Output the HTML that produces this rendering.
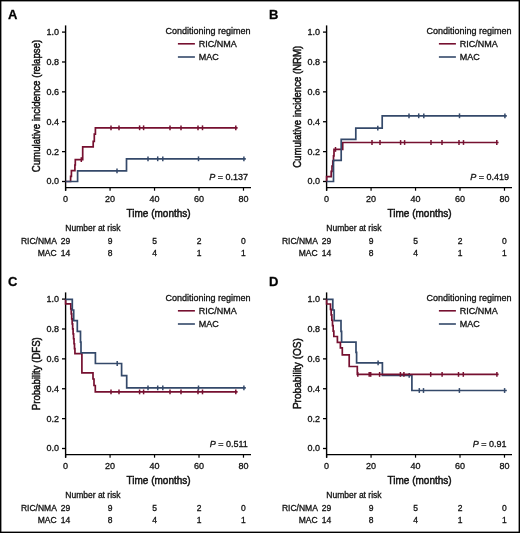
<!DOCTYPE html>
<html><head><meta charset="utf-8"><style>
html,body{margin:0;padding:0;background:#fff;}
body{width:520px;height:533px;overflow:hidden;}
svg{display:block;font-family:"Liberation Sans", sans-serif;will-change:transform;}
text{stroke:#111;stroke-width:0.3px;}
</style></head><body>
<svg width="520" height="533" viewBox="0 0 520 533">
<rect x="0" y="0" width="520" height="533" fill="#fff"/>
<g transform="translate(0,0)">
<text x="7.9" y="19" font-size="13" font-weight="bold" fill="#000">A</text>
<line x1="65.6" y1="25.4" x2="65.6" y2="190.7" stroke="#000" stroke-width="1.4"/>
<line x1="62" y1="32.10" x2="65.6" y2="32.10" stroke="#000" stroke-width="1.3"/>
<text x="58.9" y="35.00" font-size="9" text-anchor="end" fill="#111">1.0</text>
<line x1="62" y1="61.98" x2="65.6" y2="61.98" stroke="#000" stroke-width="1.3"/>
<text x="58.9" y="64.88" font-size="9" text-anchor="end" fill="#111">0.8</text>
<line x1="62" y1="91.86" x2="65.6" y2="91.86" stroke="#000" stroke-width="1.3"/>
<text x="58.9" y="94.76" font-size="9" text-anchor="end" fill="#111">0.6</text>
<line x1="62" y1="121.74" x2="65.6" y2="121.74" stroke="#000" stroke-width="1.3"/>
<text x="58.9" y="124.64" font-size="9" text-anchor="end" fill="#111">0.4</text>
<line x1="62" y1="151.62" x2="65.6" y2="151.62" stroke="#000" stroke-width="1.3"/>
<text x="58.9" y="154.52" font-size="9" text-anchor="end" fill="#111">0.2</text>
<line x1="62" y1="181.50" x2="65.6" y2="181.50" stroke="#000" stroke-width="1.3"/>
<text x="58.9" y="184.40" font-size="9" text-anchor="end" fill="#111">0.0</text>
<line x1="65" y1="187.65" x2="251" y2="187.65" stroke="#000" stroke-width="1.4"/>
<line x1="65.60" y1="187.65" x2="65.60" y2="190.7" stroke="#000" stroke-width="1.2"/>
<text x="65.60" y="202.3" font-size="9" text-anchor="middle" fill="#111">0</text>
<line x1="110.07" y1="187.65" x2="110.07" y2="190.7" stroke="#000" stroke-width="1.2"/>
<text x="110.07" y="202.3" font-size="9" text-anchor="middle" fill="#111">20</text>
<line x1="154.54" y1="187.65" x2="154.54" y2="190.7" stroke="#000" stroke-width="1.2"/>
<text x="154.54" y="202.3" font-size="9" text-anchor="middle" fill="#111">40</text>
<line x1="199.01" y1="187.65" x2="199.01" y2="190.7" stroke="#000" stroke-width="1.2"/>
<text x="199.01" y="202.3" font-size="9" text-anchor="middle" fill="#111">60</text>
<line x1="243.48" y1="187.65" x2="243.48" y2="190.7" stroke="#000" stroke-width="1.2"/>
<text x="243.48" y="202.3" font-size="9" text-anchor="middle" fill="#111">80</text>
<text x="126.6" y="216.9" font-size="11" textLength="64" lengthAdjust="spacingAndGlyphs" fill="#111" style="stroke-width:0.5px">Time (months)</text>
<text transform="translate(40.0,106.0) rotate(-90)" x="0" y="0" font-size="11" text-anchor="middle" textLength="132.5" lengthAdjust="spacingAndGlyphs" fill="#111" style="stroke-width:0.5px">Cumulative incidence (relapse)</text>
<text x="165.4" y="33.7" font-size="9" fill="#111">Conditioning regimen</text>
<line x1="177.9" y1="43.8" x2="194.9" y2="43.8" stroke="#761030" stroke-width="1.6"/>
<line x1="177.9" y1="57.0" x2="194.9" y2="57.0" stroke="#34496a" stroke-width="1.6"/>
<text x="198.8" y="46.8" font-size="9" fill="#111">RIC/NMA</text>
<text x="198.8" y="60.2" font-size="9" fill="#111">MAC</text>
<text x="228.7" y="179.7" font-size="9" text-anchor="middle" fill="#111"><tspan font-style="italic">P</tspan> = 0.137</text>
<text x="65.3" y="230.6" font-size="8.5" fill="#111">Number at risk</text>
<text x="56.8" y="243.9" font-size="8.5" text-anchor="end" fill="#111">RIC/NMA</text>
<text x="56.6" y="255.6" font-size="8.5" text-anchor="end" fill="#111">MAC</text>
<text x="65.60" y="243.9" font-size="8.5" text-anchor="middle" fill="#111">29</text>
<text x="65.60" y="255.6" font-size="8.5" text-anchor="middle" fill="#111">14</text>
<text x="110.07" y="243.9" font-size="8.5" text-anchor="middle" fill="#111">9</text>
<text x="110.07" y="255.6" font-size="8.5" text-anchor="middle" fill="#111">8</text>
<text x="154.54" y="243.9" font-size="8.5" text-anchor="middle" fill="#111">5</text>
<text x="154.54" y="255.6" font-size="8.5" text-anchor="middle" fill="#111">4</text>
<text x="199.01" y="243.9" font-size="8.5" text-anchor="middle" fill="#111">2</text>
<text x="199.01" y="255.6" font-size="8.5" text-anchor="middle" fill="#111">1</text>
<text x="243.48" y="243.9" font-size="8.5" text-anchor="middle" fill="#111">0</text>
<text x="243.48" y="255.6" font-size="8.5" text-anchor="middle" fill="#111">1</text>
<path d="M65.6,181.5 H70.6 V176.3 H71.4 V170.6 H74.9 V165 H75.3 V159.6 H82.7 V146.8 H93.2 V141.4 H94.3 V134.2 H95.4 V127.8 H237.6" fill="none" stroke="#761030" stroke-width="1.7" stroke-linejoin="miter"/><line x1="81.30" y1="157.20" x2="81.30" y2="162.00" stroke="#761030" stroke-width="1.5"/><line x1="111.00" y1="125.40" x2="111.00" y2="130.20" stroke="#761030" stroke-width="1.5"/><line x1="119.00" y1="125.40" x2="119.00" y2="130.20" stroke="#761030" stroke-width="1.5"/><line x1="139.60" y1="125.40" x2="139.60" y2="130.20" stroke="#761030" stroke-width="1.5"/><line x1="143.60" y1="125.40" x2="143.60" y2="130.20" stroke="#761030" stroke-width="1.5"/><line x1="170.00" y1="125.40" x2="170.00" y2="130.20" stroke="#761030" stroke-width="1.5"/><line x1="181.00" y1="125.40" x2="181.00" y2="130.20" stroke="#761030" stroke-width="1.5"/><line x1="198.00" y1="125.40" x2="198.00" y2="130.20" stroke="#761030" stroke-width="1.5"/><line x1="202.50" y1="125.40" x2="202.50" y2="130.20" stroke="#761030" stroke-width="1.5"/><line x1="235.80" y1="125.40" x2="235.80" y2="130.20" stroke="#761030" stroke-width="1.5"/><path d="M65.6,181.5 H77.6 V170.8 H126.5 V158.8 H245.8" fill="none" stroke="#34496a" stroke-width="1.7" stroke-linejoin="miter"/><line x1="117.00" y1="168.40" x2="117.00" y2="173.20" stroke="#34496a" stroke-width="1.5"/><line x1="148.00" y1="156.40" x2="148.00" y2="161.20" stroke="#34496a" stroke-width="1.5"/><line x1="157.70" y1="156.40" x2="157.70" y2="161.20" stroke="#34496a" stroke-width="1.5"/><line x1="162.80" y1="156.40" x2="162.80" y2="161.20" stroke="#34496a" stroke-width="1.5"/><line x1="198.50" y1="156.40" x2="198.50" y2="161.20" stroke="#34496a" stroke-width="1.5"/><line x1="243.90" y1="156.40" x2="243.90" y2="161.20" stroke="#34496a" stroke-width="1.5"/>
</g>
<g transform="translate(261,0)">
<text x="7.9" y="19" font-size="13" font-weight="bold" fill="#000">B</text>
<line x1="65.6" y1="25.4" x2="65.6" y2="190.7" stroke="#000" stroke-width="1.4"/>
<line x1="62" y1="32.10" x2="65.6" y2="32.10" stroke="#000" stroke-width="1.3"/>
<text x="58.9" y="35.00" font-size="9" text-anchor="end" fill="#111">1.0</text>
<line x1="62" y1="61.98" x2="65.6" y2="61.98" stroke="#000" stroke-width="1.3"/>
<text x="58.9" y="64.88" font-size="9" text-anchor="end" fill="#111">0.8</text>
<line x1="62" y1="91.86" x2="65.6" y2="91.86" stroke="#000" stroke-width="1.3"/>
<text x="58.9" y="94.76" font-size="9" text-anchor="end" fill="#111">0.6</text>
<line x1="62" y1="121.74" x2="65.6" y2="121.74" stroke="#000" stroke-width="1.3"/>
<text x="58.9" y="124.64" font-size="9" text-anchor="end" fill="#111">0.4</text>
<line x1="62" y1="151.62" x2="65.6" y2="151.62" stroke="#000" stroke-width="1.3"/>
<text x="58.9" y="154.52" font-size="9" text-anchor="end" fill="#111">0.2</text>
<line x1="62" y1="181.50" x2="65.6" y2="181.50" stroke="#000" stroke-width="1.3"/>
<text x="58.9" y="184.40" font-size="9" text-anchor="end" fill="#111">0.0</text>
<line x1="65" y1="187.65" x2="251" y2="187.65" stroke="#000" stroke-width="1.4"/>
<line x1="65.60" y1="187.65" x2="65.60" y2="190.7" stroke="#000" stroke-width="1.2"/>
<text x="65.60" y="202.3" font-size="9" text-anchor="middle" fill="#111">0</text>
<line x1="110.07" y1="187.65" x2="110.07" y2="190.7" stroke="#000" stroke-width="1.2"/>
<text x="110.07" y="202.3" font-size="9" text-anchor="middle" fill="#111">20</text>
<line x1="154.54" y1="187.65" x2="154.54" y2="190.7" stroke="#000" stroke-width="1.2"/>
<text x="154.54" y="202.3" font-size="9" text-anchor="middle" fill="#111">40</text>
<line x1="199.01" y1="187.65" x2="199.01" y2="190.7" stroke="#000" stroke-width="1.2"/>
<text x="199.01" y="202.3" font-size="9" text-anchor="middle" fill="#111">60</text>
<line x1="243.48" y1="187.65" x2="243.48" y2="190.7" stroke="#000" stroke-width="1.2"/>
<text x="243.48" y="202.3" font-size="9" text-anchor="middle" fill="#111">80</text>
<text x="126.6" y="216.9" font-size="11" textLength="64" lengthAdjust="spacingAndGlyphs" fill="#111" style="stroke-width:0.5px">Time (months)</text>
<text transform="translate(40.0,106.8) rotate(-90)" x="0" y="0" font-size="11" text-anchor="middle" textLength="122" lengthAdjust="spacingAndGlyphs" fill="#111" style="stroke-width:0.5px">Cumulative incidence (NRM)</text>
<text x="165.4" y="33.7" font-size="9" fill="#111">Conditioning regimen</text>
<line x1="177.9" y1="43.8" x2="194.9" y2="43.8" stroke="#761030" stroke-width="1.6"/>
<line x1="177.9" y1="57.0" x2="194.9" y2="57.0" stroke="#34496a" stroke-width="1.6"/>
<text x="198.8" y="46.8" font-size="9" fill="#111">RIC/NMA</text>
<text x="198.8" y="60.2" font-size="9" fill="#111">MAC</text>
<text x="228.7" y="179.7" font-size="9" text-anchor="middle" fill="#111"><tspan font-style="italic">P</tspan> = 0.419</text>
<text x="65.3" y="230.6" font-size="8.5" fill="#111">Number at risk</text>
<text x="56.8" y="243.9" font-size="8.5" text-anchor="end" fill="#111">RIC/NMA</text>
<text x="56.6" y="255.6" font-size="8.5" text-anchor="end" fill="#111">MAC</text>
<text x="65.60" y="243.9" font-size="8.5" text-anchor="middle" fill="#111">29</text>
<text x="65.60" y="255.6" font-size="8.5" text-anchor="middle" fill="#111">14</text>
<text x="110.07" y="243.9" font-size="8.5" text-anchor="middle" fill="#111">9</text>
<text x="110.07" y="255.6" font-size="8.5" text-anchor="middle" fill="#111">8</text>
<text x="154.54" y="243.9" font-size="8.5" text-anchor="middle" fill="#111">5</text>
<text x="154.54" y="255.6" font-size="8.5" text-anchor="middle" fill="#111">4</text>
<text x="199.01" y="243.9" font-size="8.5" text-anchor="middle" fill="#111">2</text>
<text x="199.01" y="255.6" font-size="8.5" text-anchor="middle" fill="#111">1</text>
<text x="243.48" y="243.9" font-size="8.5" text-anchor="middle" fill="#111">0</text>
<text x="243.48" y="255.6" font-size="8.5" text-anchor="middle" fill="#111">1</text>
<path d="M65.6,181.5 V176.6 H70.2 V171.4 H71 V166.2 H71.8 V161 H72.5 V155.8 H73 V149.4 H81.7 V142.5 H237.6" fill="none" stroke="#761030" stroke-width="1.7" stroke-linejoin="miter"/><line x1="74.50" y1="147.00" x2="74.50" y2="151.80" stroke="#761030" stroke-width="1.5"/><line x1="111.00" y1="140.10" x2="111.00" y2="144.90" stroke="#761030" stroke-width="1.5"/><line x1="119.00" y1="140.10" x2="119.00" y2="144.90" stroke="#761030" stroke-width="1.5"/><line x1="139.60" y1="140.10" x2="139.60" y2="144.90" stroke="#761030" stroke-width="1.5"/><line x1="143.60" y1="140.10" x2="143.60" y2="144.90" stroke="#761030" stroke-width="1.5"/><line x1="170.00" y1="140.10" x2="170.00" y2="144.90" stroke="#761030" stroke-width="1.5"/><line x1="181.00" y1="140.10" x2="181.00" y2="144.90" stroke="#761030" stroke-width="1.5"/><line x1="198.00" y1="140.10" x2="198.00" y2="144.90" stroke="#761030" stroke-width="1.5"/><line x1="202.50" y1="140.10" x2="202.50" y2="144.90" stroke="#761030" stroke-width="1.5"/><line x1="235.80" y1="140.10" x2="235.80" y2="144.90" stroke="#761030" stroke-width="1.5"/><path d="M65.6,181.5 H72.5 V160.4 H80.2 V139.3 H94.8 V128.1 H121.2 V115.8 H245.8" fill="none" stroke="#34496a" stroke-width="1.7" stroke-linejoin="miter"/><line x1="116.80" y1="125.70" x2="116.80" y2="130.50" stroke="#34496a" stroke-width="1.5"/><line x1="148.00" y1="113.40" x2="148.00" y2="118.20" stroke="#34496a" stroke-width="1.5"/><line x1="157.70" y1="113.40" x2="157.70" y2="118.20" stroke="#34496a" stroke-width="1.5"/><line x1="162.80" y1="113.40" x2="162.80" y2="118.20" stroke="#34496a" stroke-width="1.5"/><line x1="198.50" y1="113.40" x2="198.50" y2="118.20" stroke="#34496a" stroke-width="1.5"/><line x1="243.90" y1="113.40" x2="243.90" y2="118.20" stroke="#34496a" stroke-width="1.5"/>
</g>
<g transform="translate(0,267)">
<text x="7.9" y="19" font-size="13" font-weight="bold" fill="#000">C</text>
<line x1="65.6" y1="25.4" x2="65.6" y2="190.7" stroke="#000" stroke-width="1.4"/>
<line x1="62" y1="32.10" x2="65.6" y2="32.10" stroke="#000" stroke-width="1.3"/>
<text x="58.9" y="35.00" font-size="9" text-anchor="end" fill="#111">1.0</text>
<line x1="62" y1="61.98" x2="65.6" y2="61.98" stroke="#000" stroke-width="1.3"/>
<text x="58.9" y="64.88" font-size="9" text-anchor="end" fill="#111">0.8</text>
<line x1="62" y1="91.86" x2="65.6" y2="91.86" stroke="#000" stroke-width="1.3"/>
<text x="58.9" y="94.76" font-size="9" text-anchor="end" fill="#111">0.6</text>
<line x1="62" y1="121.74" x2="65.6" y2="121.74" stroke="#000" stroke-width="1.3"/>
<text x="58.9" y="124.64" font-size="9" text-anchor="end" fill="#111">0.4</text>
<line x1="62" y1="151.62" x2="65.6" y2="151.62" stroke="#000" stroke-width="1.3"/>
<text x="58.9" y="154.52" font-size="9" text-anchor="end" fill="#111">0.2</text>
<line x1="62" y1="181.50" x2="65.6" y2="181.50" stroke="#000" stroke-width="1.3"/>
<text x="58.9" y="184.40" font-size="9" text-anchor="end" fill="#111">0.0</text>
<line x1="65" y1="187.65" x2="251" y2="187.65" stroke="#000" stroke-width="1.4"/>
<line x1="65.60" y1="187.65" x2="65.60" y2="190.7" stroke="#000" stroke-width="1.2"/>
<text x="65.60" y="202.3" font-size="9" text-anchor="middle" fill="#111">0</text>
<line x1="110.07" y1="187.65" x2="110.07" y2="190.7" stroke="#000" stroke-width="1.2"/>
<text x="110.07" y="202.3" font-size="9" text-anchor="middle" fill="#111">20</text>
<line x1="154.54" y1="187.65" x2="154.54" y2="190.7" stroke="#000" stroke-width="1.2"/>
<text x="154.54" y="202.3" font-size="9" text-anchor="middle" fill="#111">40</text>
<line x1="199.01" y1="187.65" x2="199.01" y2="190.7" stroke="#000" stroke-width="1.2"/>
<text x="199.01" y="202.3" font-size="9" text-anchor="middle" fill="#111">60</text>
<line x1="243.48" y1="187.65" x2="243.48" y2="190.7" stroke="#000" stroke-width="1.2"/>
<text x="243.48" y="202.3" font-size="9" text-anchor="middle" fill="#111">80</text>
<text x="126.6" y="216.9" font-size="11" textLength="64" lengthAdjust="spacingAndGlyphs" fill="#111" style="stroke-width:0.5px">Time (months)</text>
<text transform="translate(40.0,106.7) rotate(-90)" x="0" y="0" font-size="11" text-anchor="middle" textLength="73" lengthAdjust="spacingAndGlyphs" fill="#111" style="stroke-width:0.5px">Probability (DFS)</text>
<text x="165.4" y="33.7" font-size="9" fill="#111">Conditioning regimen</text>
<line x1="177.9" y1="43.8" x2="194.9" y2="43.8" stroke="#761030" stroke-width="1.6"/>
<line x1="177.9" y1="57.0" x2="194.9" y2="57.0" stroke="#34496a" stroke-width="1.6"/>
<text x="198.8" y="46.8" font-size="9" fill="#111">RIC/NMA</text>
<text x="198.8" y="60.2" font-size="9" fill="#111">MAC</text>
<text x="228.7" y="179.7" font-size="9" text-anchor="middle" fill="#111"><tspan font-style="italic">P</tspan> = 0.511</text>
<text x="65.3" y="230.6" font-size="8.5" fill="#111">Number at risk</text>
<text x="56.8" y="243.9" font-size="8.5" text-anchor="end" fill="#111">RIC/NMA</text>
<text x="56.6" y="255.6" font-size="8.5" text-anchor="end" fill="#111">MAC</text>
<text x="65.60" y="243.9" font-size="8.5" text-anchor="middle" fill="#111">29</text>
<text x="65.60" y="255.6" font-size="8.5" text-anchor="middle" fill="#111">14</text>
<text x="110.07" y="243.9" font-size="8.5" text-anchor="middle" fill="#111">9</text>
<text x="110.07" y="255.6" font-size="8.5" text-anchor="middle" fill="#111">8</text>
<text x="154.54" y="243.9" font-size="8.5" text-anchor="middle" fill="#111">5</text>
<text x="154.54" y="255.6" font-size="8.5" text-anchor="middle" fill="#111">4</text>
<text x="199.01" y="243.9" font-size="8.5" text-anchor="middle" fill="#111">2</text>
<text x="199.01" y="255.6" font-size="8.5" text-anchor="middle" fill="#111">1</text>
<text x="243.48" y="243.9" font-size="8.5" text-anchor="middle" fill="#111">0</text>
<text x="243.48" y="255.6" font-size="8.5" text-anchor="middle" fill="#111">1</text>
<path d="M65.6,32.3 V36.9 H70.8 V41.88 H71.26 V46.86 H71.72 V51.84 H72.18 V56.82 H72.64 V61.80 H73.10 V66.78 H73.56 V71.76 H74.02 V76.74 H74.48 V81.72 H74.94 V86.70 H75.40 H81.9 V105.9 H93 V112 H94 V118.5 H95.3 V124.9 H237.6" fill="none" stroke="#761030" stroke-width="1.7" stroke-linejoin="miter"/><line x1="111.00" y1="122.50" x2="111.00" y2="127.30" stroke="#761030" stroke-width="1.5"/><line x1="119.00" y1="122.50" x2="119.00" y2="127.30" stroke="#761030" stroke-width="1.5"/><line x1="139.60" y1="122.50" x2="139.60" y2="127.30" stroke="#761030" stroke-width="1.5"/><line x1="143.60" y1="122.50" x2="143.60" y2="127.30" stroke="#761030" stroke-width="1.5"/><line x1="170.00" y1="122.50" x2="170.00" y2="127.30" stroke="#761030" stroke-width="1.5"/><line x1="181.00" y1="122.50" x2="181.00" y2="127.30" stroke="#761030" stroke-width="1.5"/><line x1="198.00" y1="122.50" x2="198.00" y2="127.30" stroke="#761030" stroke-width="1.5"/><line x1="202.50" y1="122.50" x2="202.50" y2="127.30" stroke="#761030" stroke-width="1.5"/><line x1="235.80" y1="122.50" x2="235.80" y2="127.30" stroke="#761030" stroke-width="1.5"/><path d="M65.6,32.3 H72.3 V43.0 H73.7 V53.7 H77.3 V64.4 H80.5 V75.1 H81 V85.8 H95.4 V96.5 H121.6 V108.7 H126.7 V120.9 H245.8" fill="none" stroke="#34496a" stroke-width="1.7" stroke-linejoin="miter"/><line x1="117.20" y1="94.10" x2="117.20" y2="98.90" stroke="#34496a" stroke-width="1.5"/><line x1="148.00" y1="118.50" x2="148.00" y2="123.30" stroke="#34496a" stroke-width="1.5"/><line x1="157.70" y1="118.50" x2="157.70" y2="123.30" stroke="#34496a" stroke-width="1.5"/><line x1="162.80" y1="118.50" x2="162.80" y2="123.30" stroke="#34496a" stroke-width="1.5"/><line x1="198.50" y1="118.50" x2="198.50" y2="123.30" stroke="#34496a" stroke-width="1.5"/><line x1="243.90" y1="118.50" x2="243.90" y2="123.30" stroke="#34496a" stroke-width="1.5"/>
</g>
<g transform="translate(261,267)">
<text x="7.9" y="19" font-size="13" font-weight="bold" fill="#000">D</text>
<line x1="65.6" y1="25.4" x2="65.6" y2="190.7" stroke="#000" stroke-width="1.4"/>
<line x1="62" y1="32.10" x2="65.6" y2="32.10" stroke="#000" stroke-width="1.3"/>
<text x="58.9" y="35.00" font-size="9" text-anchor="end" fill="#111">1.0</text>
<line x1="62" y1="61.98" x2="65.6" y2="61.98" stroke="#000" stroke-width="1.3"/>
<text x="58.9" y="64.88" font-size="9" text-anchor="end" fill="#111">0.8</text>
<line x1="62" y1="91.86" x2="65.6" y2="91.86" stroke="#000" stroke-width="1.3"/>
<text x="58.9" y="94.76" font-size="9" text-anchor="end" fill="#111">0.6</text>
<line x1="62" y1="121.74" x2="65.6" y2="121.74" stroke="#000" stroke-width="1.3"/>
<text x="58.9" y="124.64" font-size="9" text-anchor="end" fill="#111">0.4</text>
<line x1="62" y1="151.62" x2="65.6" y2="151.62" stroke="#000" stroke-width="1.3"/>
<text x="58.9" y="154.52" font-size="9" text-anchor="end" fill="#111">0.2</text>
<line x1="62" y1="181.50" x2="65.6" y2="181.50" stroke="#000" stroke-width="1.3"/>
<text x="58.9" y="184.40" font-size="9" text-anchor="end" fill="#111">0.0</text>
<line x1="65" y1="187.65" x2="251" y2="187.65" stroke="#000" stroke-width="1.4"/>
<line x1="65.60" y1="187.65" x2="65.60" y2="190.7" stroke="#000" stroke-width="1.2"/>
<text x="65.60" y="202.3" font-size="9" text-anchor="middle" fill="#111">0</text>
<line x1="110.07" y1="187.65" x2="110.07" y2="190.7" stroke="#000" stroke-width="1.2"/>
<text x="110.07" y="202.3" font-size="9" text-anchor="middle" fill="#111">20</text>
<line x1="154.54" y1="187.65" x2="154.54" y2="190.7" stroke="#000" stroke-width="1.2"/>
<text x="154.54" y="202.3" font-size="9" text-anchor="middle" fill="#111">40</text>
<line x1="199.01" y1="187.65" x2="199.01" y2="190.7" stroke="#000" stroke-width="1.2"/>
<text x="199.01" y="202.3" font-size="9" text-anchor="middle" fill="#111">60</text>
<line x1="243.48" y1="187.65" x2="243.48" y2="190.7" stroke="#000" stroke-width="1.2"/>
<text x="243.48" y="202.3" font-size="9" text-anchor="middle" fill="#111">80</text>
<text x="126.6" y="216.9" font-size="11" textLength="64" lengthAdjust="spacingAndGlyphs" fill="#111" style="stroke-width:0.5px">Time (months)</text>
<text transform="translate(40.0,106.6) rotate(-90)" x="0" y="0" font-size="11" text-anchor="middle" textLength="71" lengthAdjust="spacingAndGlyphs" fill="#111" style="stroke-width:0.5px">Probability (OS)</text>
<text x="165.4" y="33.7" font-size="9" fill="#111">Conditioning regimen</text>
<line x1="177.9" y1="43.8" x2="194.9" y2="43.8" stroke="#761030" stroke-width="1.6"/>
<line x1="177.9" y1="57.0" x2="194.9" y2="57.0" stroke="#34496a" stroke-width="1.6"/>
<text x="198.8" y="46.8" font-size="9" fill="#111">RIC/NMA</text>
<text x="198.8" y="60.2" font-size="9" fill="#111">MAC</text>
<text x="228.7" y="179.7" font-size="9" text-anchor="middle" fill="#111"><tspan font-style="italic">P</tspan> = 0.91</text>
<text x="65.3" y="230.6" font-size="8.5" fill="#111">Number at risk</text>
<text x="56.8" y="243.9" font-size="8.5" text-anchor="end" fill="#111">RIC/NMA</text>
<text x="56.6" y="255.6" font-size="8.5" text-anchor="end" fill="#111">MAC</text>
<text x="65.60" y="243.9" font-size="8.5" text-anchor="middle" fill="#111">29</text>
<text x="65.60" y="255.6" font-size="8.5" text-anchor="middle" fill="#111">14</text>
<text x="110.07" y="243.9" font-size="8.5" text-anchor="middle" fill="#111">9</text>
<text x="110.07" y="255.6" font-size="8.5" text-anchor="middle" fill="#111">8</text>
<text x="154.54" y="243.9" font-size="8.5" text-anchor="middle" fill="#111">5</text>
<text x="154.54" y="255.6" font-size="8.5" text-anchor="middle" fill="#111">4</text>
<text x="199.01" y="243.9" font-size="8.5" text-anchor="middle" fill="#111">2</text>
<text x="199.01" y="255.6" font-size="8.5" text-anchor="middle" fill="#111">1</text>
<text x="243.48" y="243.9" font-size="8.5" text-anchor="middle" fill="#111">0</text>
<text x="243.48" y="255.6" font-size="8.5" text-anchor="middle" fill="#111">1</text>
<path d="M65.6,32.3 H71.8 V43 H73.2 V53.7 H80 V64.4 H80.6 V75.1 H95 V85.4 H95.6 V95.9 H121.4 V108.3 H150.9 V123.5 H245.8" fill="none" stroke="#34496a" stroke-width="1.7" stroke-linejoin="miter"/><line x1="117.10" y1="93.50" x2="117.10" y2="98.30" stroke="#34496a" stroke-width="1.5"/><line x1="148.20" y1="105.90" x2="148.20" y2="110.70" stroke="#34496a" stroke-width="1.5"/><line x1="158.30" y1="121.10" x2="158.30" y2="125.90" stroke="#34496a" stroke-width="1.5"/><line x1="162.50" y1="121.10" x2="162.50" y2="125.90" stroke="#34496a" stroke-width="1.5"/><line x1="198.40" y1="121.10" x2="198.40" y2="125.90" stroke="#34496a" stroke-width="1.5"/><line x1="243.60" y1="121.10" x2="243.60" y2="125.90" stroke="#34496a" stroke-width="1.5"/><path d="M65.6,32.3 V37 H69.5 V42.42 H70.17 V47.83 H70.83 V53.25 H71.50 V58.67 H72.17 V64.08 H72.83 V69.50 H73.50 H76.4 V75.4 H79.4 V80.9 H81.3 V87.9 H88.2 V99.5 H96.3 V107.4 H237.6" fill="none" stroke="#761030" stroke-width="1.7" stroke-linejoin="miter"/><line x1="96.80" y1="105.00" x2="96.80" y2="109.80" stroke="#761030" stroke-width="1.5"/><line x1="108.20" y1="105.00" x2="108.20" y2="109.80" stroke="#761030" stroke-width="1.5"/><line x1="109.70" y1="105.00" x2="109.70" y2="109.80" stroke="#761030" stroke-width="1.5"/><line x1="118.60" y1="105.00" x2="118.60" y2="109.80" stroke="#761030" stroke-width="1.5"/><line x1="139.40" y1="105.00" x2="139.40" y2="109.80" stroke="#761030" stroke-width="1.5"/><line x1="142.90" y1="105.00" x2="142.90" y2="109.80" stroke="#761030" stroke-width="1.5"/><line x1="169.70" y1="105.00" x2="169.70" y2="109.80" stroke="#761030" stroke-width="1.5"/><line x1="181.10" y1="105.00" x2="181.10" y2="109.80" stroke="#761030" stroke-width="1.5"/><line x1="197.50" y1="105.00" x2="197.50" y2="109.80" stroke="#761030" stroke-width="1.5"/><line x1="202.30" y1="105.00" x2="202.30" y2="109.80" stroke="#761030" stroke-width="1.5"/><line x1="235.90" y1="105.00" x2="235.90" y2="109.80" stroke="#761030" stroke-width="1.5"/>
</g>
<rect x="0.7" y="0.7" width="518.6" height="531.6" fill="none" stroke="#000" stroke-width="1.4"/>
</svg>
</body></html>
